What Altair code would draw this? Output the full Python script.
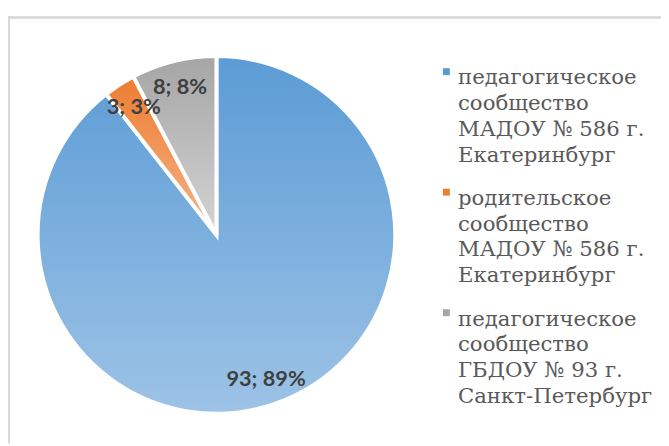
import altair as alt
import pandas as pd

categories = [
    "педагогическое|сообщество|МАДОУ № 586 г.|Екатеринбург",
    "родительское|сообщество|МАДОУ № 586 г.|Екатеринбург",
    "педагогическое|сообщество|ГБДОУ № 93 г.|Санкт-Петербург",
]
values = [93, 3, 8]
colors = ["#5b9bd5", "#ed7d31", "#a5a5a5"]
light_colors = ["#9dc3e6", "#f6b48a", "#d4d4d4"]

total = sum(values)
labels = [f"{v}; {round(100 * v / total)}%" for v in values]

df = pd.DataFrame({
    "cat": categories,
    "value": values,
    "idx": list(range(len(values))),
    "label": labels,
})

SERIF = "DejaVu Serif"


def grad(c1, c2):
    return {
        "gradient": "linear",
        "x1": 0, "y1": 0, "x2": 0, "y2": 1,
        "stops": [{"offset": 0, "color": c1}, {"offset": 1, "color": c2}],
    }


CX, CY, R = 211, 227, 181

base = alt.Chart(df).encode(
    theta=alt.Theta("value:Q", stack=True),
    order=alt.Order("idx:Q"),
    x=alt.value(CX),
    y=alt.value(CY),
)

pie = base.mark_arc(radius=R, stroke="white", strokeWidth=4).encode(
    color=alt.Color(
        "cat:N",
        scale=alt.Scale(domain=categories, range=colors),
        legend=alt.Legend(
            title=None,
            orient="none",
            legendX=433,
            legendY=51,
            padding=0,
            symbolType="square",
            symbolSize=49,
            symbolStrokeWidth=0,
            labelFont=SERIF,
            labelFontSize=21.5,
            labelColor="#595959",
            labelLimit=400,
            labelOffset=1,
            labelBaseline="alphabetic",
            labelExpr="split(datum.label, '|')",
            rowPadding=15,
        ),
    )
)

grad_layer = base.mark_arc(radius=R, stroke="white", strokeWidth=4).encode(
    color=alt.value(
        grad(colors[2], light_colors[2]),
        condition=[
            {"test": "datum.idx == 0", "value": grad(colors[0], light_colors[0])},
            {"test": "datum.idx == 1", "value": grad(colors[1], light_colors[1])},
        ],
    )
)

text = base.mark_text(
    radius=154, font="Lato", fontSize=22, fontWeight="bold", color="#404040"
).encode(text="label:N")

border_top = alt.Chart(df).mark_rule(color="#d9d9d9", strokeWidth=2).encode(
    x=alt.value(0), x2=alt.value(661), y=alt.value(7)
)
border_left = alt.Chart(df).mark_rule(color="#d9d9d9", strokeWidth=2).encode(
    x=alt.value(1), y=alt.value(6), y2=alt.value(438)
)

chart = alt.layer(border_top, border_left, pie, grad_layer, text).properties(
    width=661, height=438, autosize=alt.AutoSizeParams(type="none"), padding=0
).configure(
    background="white",
    style={"guide-label": {"dy": 13, "lineHeight": 26,
                           "font": SERIF, "fontSize": 21.5}},
    view={"stroke": "transparent"},
)

chart.save("out.html", embed_options={"renderer": "svg", "actions": False})
